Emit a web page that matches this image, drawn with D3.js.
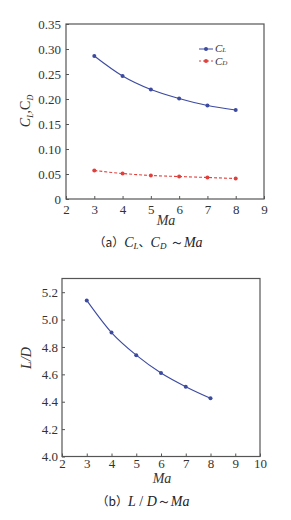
<!DOCTYPE html>
<html>
<head>
<meta charset="utf-8">
<script src="https://cdn.jsdelivr.net/npm/d3@7"></script>
<style>
  body { margin: 0; background: #fff; }
  svg { display: block; }
  .box { fill: none; stroke: #555; stroke-width: 1.2; }
  .tick text { fill: #333; font-size: 13px; }
  .tick line { stroke: #555; }
  .domain { display: none; }
</style>
</head>
<body>
<div id="chart"></div>
<script>
// Data
const ma = [3, 4, 5, 6, 7, 8];
const cl = [0.286, 0.246, 0.219, 0.201, 0.187, 0.178];
const cd = [0.057, 0.051, 0.047, 0.045, 0.043, 0.041];
const ld = [5.14, 4.905, 4.74, 4.61, 4.51, 4.425];

const xTicksA = [2, 3, 4, 5, 6, 7, 8, 9];
const yTicksA = [0, 0.05, 0.10, 0.15, 0.20, 0.25, 0.30, 0.35];
const xTicksB = [2, 3, 4, 5, 6, 7, 8, 9, 10];
const yTicksB = [4.0, 4.2, 4.4, 4.6, 4.8, 5.0, 5.2];

const width = 291, height = 520;
const blue = "#3c4aa0", red = "#e0403c";
const serif = "'Liberation Serif', serif";
const cjk = "'Noto Sans CJK SC', sans-serif";

const svg = d3.select("#chart").append("svg")
  .attr("width", width).attr("height", height);

// ---- Panel (a) ----
const xA = d3.scaleLinear().domain([2, 9]).range([66, 264]);
const yA = d3.scaleLinear().domain([0, 0.35]).range([199, 24]);

const gA = svg.append("g");
gA.append("g").attr("transform", "translate(0,199)")
  .call(d3.axisBottom(xA).tickValues(xTicksA).tickSizeInner(-3).tickSizeOuter(0).tickPadding(6)
    .tickFormat(d3.format("d")));
gA.append("g").attr("transform", "translate(66,0)")
  .call(d3.axisLeft(yA).tickValues(yTicksA).tickSizeInner(-3).tickSizeOuter(0).tickPadding(5)
    .tickFormat(d => d === 0 ? "0" : d3.format(".2f")(d)));
gA.append("rect").attr("class", "box")
  .attr("x", 66).attr("y", 24).attr("width", 198).attr("height", 175);

const lineA = (vals) => d3.line().x((d, i) => xA(ma[i])).y(d => yA(d)).curve(d3.curveMonotoneX)(vals);
gA.append("path").attr("d", lineA(cl)).attr("fill", "none").attr("stroke", blue).attr("stroke-width", 1.1);
gA.append("path").attr("d", lineA(cd)).attr("fill", "none").attr("stroke", red).attr("stroke-width", 1.1)
  .attr("stroke-dasharray", "3,2");
gA.selectAll(".pcl").data(cl).enter().append("circle")
  .attr("cx", (d, i) => xA(ma[i])).attr("cy", d => yA(d)).attr("r", 2).attr("fill", blue);
gA.selectAll(".pcd").data(cd).enter().append("circle")
  .attr("cx", (d, i) => xA(ma[i])).attr("cy", d => yA(d)).attr("r", 2).attr("fill", red);

// legend
const leg = gA.append("g").attr("transform", "translate(199,49)");
leg.append("line").attr("x1", 0).attr("x2", 14).attr("stroke", blue);
leg.append("circle").attr("cx", 7).attr("r", 2).attr("fill", blue);
leg.append("line").attr("x1", 0).attr("x2", 14).attr("y1", 12).attr("y2", 12).attr("stroke", red).attr("stroke-dasharray", "2,2");
leg.append("circle").attr("cx", 7).attr("cy", 12).attr("r", 2).attr("fill", red);
const lt1 = leg.append("text").attr("x", 16).attr("y", 3).attr("font-size", 11).attr("font-style", "italic").attr("fill", "#333");
lt1.append("tspan").text("C");
lt1.append("tspan").attr("font-size", 7).text("L");
const lt2 = leg.append("text").attr("x", 16).attr("y", 16).attr("font-size", 11).attr("font-style", "italic").attr("fill", "#333");
lt2.append("tspan").text("C");
lt2.append("tspan").attr("font-size", 7).text("D");

// y label a
const yl = gA.append("text").attr("transform", "translate(30,111) rotate(-90)")
  .attr("text-anchor", "middle").attr("font-size", 14).attr("font-style", "italic").attr("fill", "#333");
yl.append("tspan").text("C");
yl.append("tspan").attr("font-size", 8).attr("dy", 3).text("L");
yl.append("tspan").attr("font-style", "normal").attr("dy", -3).text(",C");
yl.append("tspan").attr("font-size", 8).attr("dy", 3).text("D");

gA.append("text").attr("x", 166).attr("y", 225).attr("text-anchor", "middle")
  .attr("font-size", 14).attr("font-style", "italic").attr("fill", "#333").text("Ma");

const capA = gA.append("text").attr("x", 148).attr("y", 247).attr("text-anchor", "middle")
  .attr("font-size", 14).attr("fill", "#222");
capA.append("tspan").attr("class", "cjk").attr("font-size", 12).text("（a）");
capA.append("tspan").attr("font-style", "italic").text("C");
capA.append("tspan").attr("font-style", "italic").attr("font-size", 9).attr("dy", 2).text("L");
capA.append("tspan").attr("class", "cjk").attr("font-size", 12).attr("dy", -2).text("、");
capA.append("tspan").attr("font-style", "italic").text("C");
capA.append("tspan").attr("font-style", "italic").attr("font-size", 9).attr("dy", 2).text("D");
capA.append("tspan").attr("dy", -2).text(" ～");
capA.append("tspan").attr("font-style", "italic").text("Ma");

// ---- Panel (b) ----
const xB = d3.scaleLinear().domain([2, 10]).range([62, 260]);
const yB = d3.scaleLinear().domain([4.0, 5.3]).range([456.5, 278.5]);

const gB = svg.append("g");
gB.append("g").attr("transform", "translate(0,456.5)")
  .call(d3.axisBottom(xB).tickValues(xTicksB).tickSizeInner(-3).tickSizeOuter(0).tickPadding(2)
    .tickFormat(d3.format("d")));
gB.append("g").attr("transform", "translate(62,0)")
  .call(d3.axisLeft(yB).tickValues(yTicksB).tickSizeInner(-3).tickSizeOuter(0).tickPadding(4)
    .tickFormat(d3.format(".1f")));
gB.append("rect").attr("class", "box")
  .attr("x", 62).attr("y", 278.5).attr("width", 198).attr("height", 178);

gB.append("path")
  .attr("d", d3.line().x((d, i) => xB(ma[i])).y(d => yB(d)).curve(d3.curveMonotoneX)(ld))
  .attr("fill", "none").attr("stroke", blue).attr("stroke-width", 1.1);
gB.selectAll(".pld").data(ld).enter().append("circle")
  .attr("cx", (d, i) => xB(ma[i])).attr("cy", d => yB(d)).attr("r", 2).attr("fill", blue);

gB.append("text").attr("transform", "translate(31,358) rotate(-90)")
  .attr("text-anchor", "middle").attr("font-size", 14).attr("font-style", "italic").attr("fill", "#333").text("L/D");

gB.append("text").attr("x", 162).attr("y", 483).attr("text-anchor", "middle")
  .attr("font-size", 14).attr("font-style", "italic").attr("fill", "#333").text("Ma");

const capB = gB.append("text").attr("x", 143).attr("y", 506).attr("text-anchor", "middle")
  .attr("font-size", 14).attr("fill", "#222");
capB.append("tspan").attr("class", "cjk").attr("font-size", 12).text("（b）");
capB.append("tspan").attr("font-style", "italic").text("L");
capB.append("tspan").text(" / ");
capB.append("tspan").attr("font-style", "italic").text("D");
capB.append("tspan").text("～");
capB.append("tspan").attr("font-style", "italic").text("Ma");

// fonts: serif everywhere (axis groups default to sans-serif), CJK for the brackets
svg.selectAll("text").style("font-family", serif);
svg.selectAll("tspan.cjk").style("font-family", cjk);
</script>
</body>
</html>
